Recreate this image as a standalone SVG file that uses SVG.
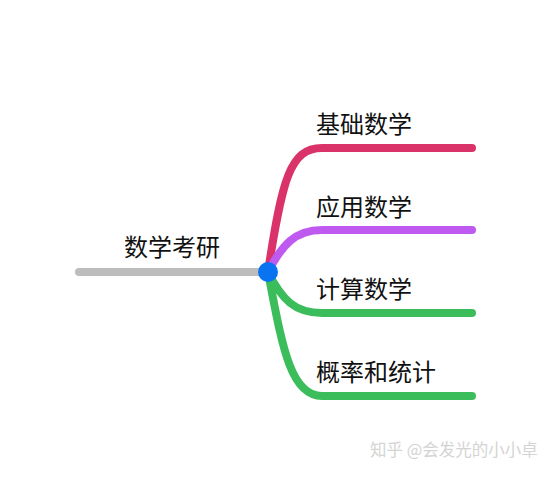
<svg xmlns="http://www.w3.org/2000/svg" width="552" height="478" viewBox="0 0 552 478">
<style>
.e{fill:none;stroke-width:8;stroke-linecap:round;stroke-linejoin:round}
.t{font-family:"Noto Sans CJK SC","Noto Sans",sans-serif;font-size:24px;fill:#111}
.w{font-family:"Noto Sans CJK SC","Noto Sans",sans-serif;font-size:16.5px;fill:#d4d4d4}
</style>
<rect width="552" height="478" fill="#fff"/>
<g id="connectors">
<path class="e" stroke="#bdbdbd" stroke-width="7" d="M79,272 L268,272"/>
<path class="e" stroke="#d9336a" d="M268,272 C282,180 290,148 322,148 L472,148"/>
<path class="e" stroke="#bf5af0" d="M268,272 C282,245 295,230 322,230 L472,230"/>
<path class="e" stroke="#3cbd5c" d="M268,272 C282,300 295,313 322,313 L472,313"/>
<path class="e" stroke="#3cbd5c" d="M268,272 C282,345 290,396 322,396 L472,396"/>
</g>
<g id="root">
<text class="t" x="124" y="256">数学考研</text>
<circle cx="268" cy="272" r="10" fill="#0a73f2"/>
</g>
<g id="n1"><text class="t" x="316" y="133">基础数学</text></g>
<g id="n2"><text class="t" x="316" y="216">应用数学</text></g>
<g id="n3"><text class="t" x="316" y="298">计算数学</text></g>
<g id="n4"><text class="t" x="316" y="381">概率和统计</text></g>
<text class="w" x="370" y="456">知乎 @会发光的小小卓</text>
</svg>
